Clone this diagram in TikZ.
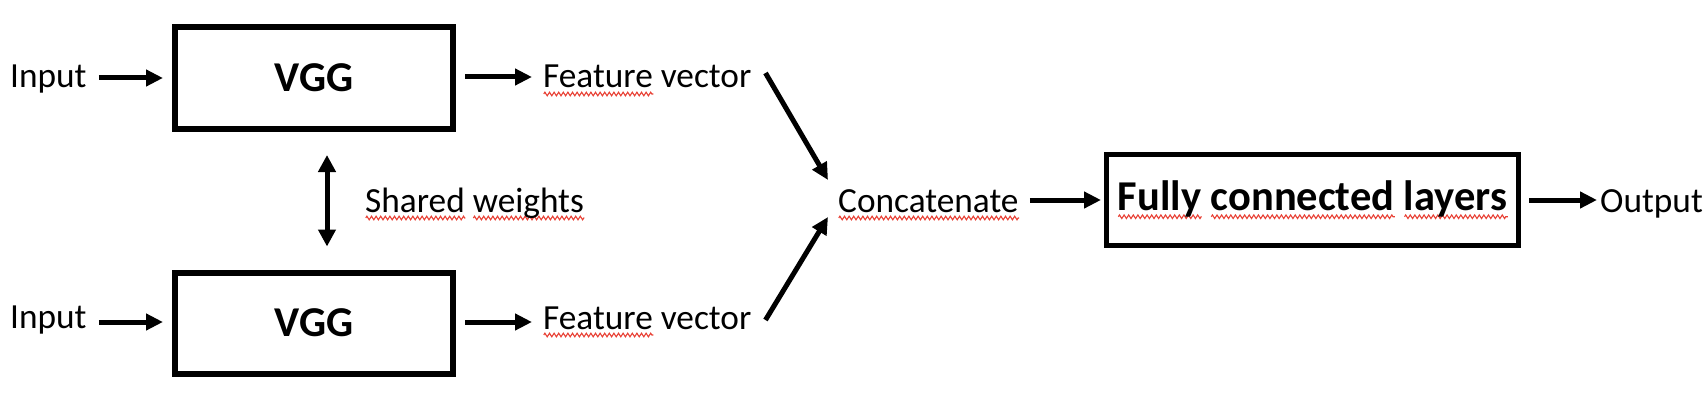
\documentclass[tikz,border=0pt]{standalone}
\usepackage{fontspec}
\setmainfont{Carlito}
\usetikzlibrary{arrows.meta,calc,decorations.pathmorphing}
\definecolor{squig}{RGB}{232,64,52}
\newdimen\sqwd
\newbox\sqbox
\newcommand\sqw[1]{\setbox\sqbox\hbox{#1}\sqwd=\wd\sqbox\rlap{\tikz[baseline=0pt]\draw[squig,line width=1.1pt,decorate,decoration={zigzag,amplitude=1.8pt,segment length=4.6pt}] (0pt,-6pt) -- (\sqwd,-6pt);}\box\sqbox}
\begin{document}
\begin{tikzpicture}[x=1pt,y=-1pt,
  lbl/.style={inner sep=0pt,anchor=base west,font=\fontsize{35.3}{40}\selectfont},
  vbox/.style={draw,line width=6pt,inner sep=0pt,font=\fontsize{42.5}{50}\selectfont\bfseries},
  arr/.style={line width=5pt,-{Triangle[length=17pt,width=16pt]}},
  darr/.style={line width=5pt,{Triangle[length=17pt,width=17pt]}-{Triangle[length=17pt,width=17pt]}}]
\useasboundingbox (0,0) rectangle (1706,404);
\node[lbl] (in1) at (10,88) {Input};
\node[vbox,minimum width=278pt,minimum height=102pt] (vgg1) at (314,78) {VGG};
\node[lbl] (fv1) at (543,88) {\sqw{Feature} vector};
\node[lbl] (in2) at (10,328) {Input};
\node[vbox,minimum width=278pt,minimum height=101pt] (vgg2) at (314,323) {VGG};
\node[lbl] (fv2) at (543,329) {\sqw{Feature} vector};
\node[lbl] (sw) at (365,212) {\sqw{Shared} \sqw{weights}};
\node[lbl] (cat) at (838,212) {\sqw{Concatenate}};
\node[vbox,line width=5pt,minimum width=412pt,minimum height=91pt] (fc) at (1312.5,200) {\sqw{Fully} \sqw{connected} \sqw{layers}};
\node[lbl] (out) at (1600,212) {Output};
\draw[arr] ($(in1.base east)+(12,-10)$) -- ($(vgg1.west)+(-9,0)$);
\draw[arr] ($(vgg1.east)+(9,-1)$) -- ($(fv1.base west)+(-11,-11)$);
\draw[arr] ($(in2.base east)+(12,-6)$) -- ($(vgg2.west)+(-9,-1)$);
\draw[arr] ($(vgg2.east)+(9,-1)$) -- ($(fv2.base west)+(-11,-7)$);
\draw[darr] ($(vgg1.south)+(13,23)$) -- ($(vgg2.north)+(13,-23)$);
\draw[arr] ($(fv1.base east)+(14,-15)$) -- ($(cat.base west)+(-10,-32)$);
\draw[arr] ($(fv2.base east)+(14,-9)$) -- ($(cat.base west)+(-10,5)$);
\draw[arr] ($(cat.base east)+(11,-12)$) -- ($(fc.west)+(-3,0)$);
\draw[arr] ($(fc.east)+(8,0)$) -- ($(out.base west)+(-3,-12)$);
\end{tikzpicture}
\end{document}
